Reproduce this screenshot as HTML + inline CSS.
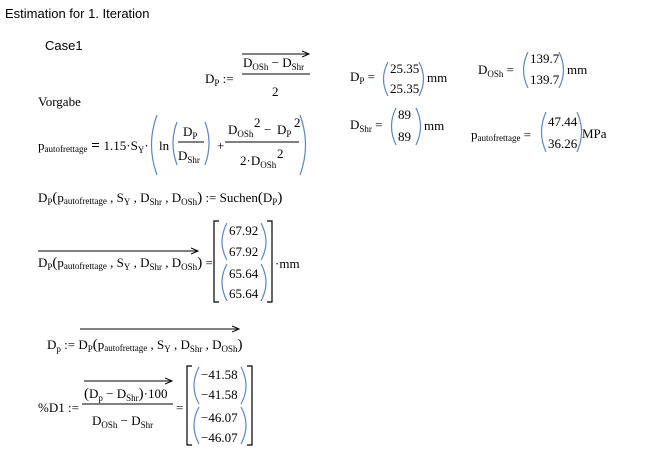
<!DOCTYPE html>
<html><head><meta charset="utf-8"><style>
html,body{margin:0;padding:0;background:#fff;}
svg{display:block;}
.s{font-family:"Liberation Sans",sans-serif;font-size:13px;fill:#000;}
.m{font-family:"Liberation Serif",serif;font-size:13px;fill:#000;}
.p{fill:none;stroke:#5b86c4;stroke-width:1.2;}
.b{fill:none;stroke:#000;stroke-width:1;}
.k{fill:none;stroke:#000;stroke-width:1.2;}
</style></head><body>
<svg width="648" height="453" viewBox="0 0 648 453">
<defs><marker id="a" markerWidth="8" markerHeight="8" refX="7" refY="4" orient="auto" markerUnits="userSpaceOnUse"><path d="M0,1 L7,4 L0,7" fill="none" stroke="#000" stroke-width="1"/></marker></defs>
<text class="s" x="5" y="18">Estimation for 1. Iteration</text>
<text class="s" x="45" y="50">Case1</text>

<text class="m" x="205" y="83">D<tspan font-size="9" dy="3">P</tspan><tspan dy="-3"> :=</tspan></text>
<line x1="242" y1="54" x2="309" y2="54" class="b" marker-end="url(#a)"/>
<text class="m" x="243" y="67">D<tspan font-size="9" dy="3">OSh</tspan><tspan dy="-3"> − D</tspan><tspan font-size="9" dy="3">Shr</tspan></text>
<line x1="242" y1="74" x2="310" y2="74" class="b"/>
<text class="m" x="272" y="96">2</text>

<text class="m" x="38" y="106">Vorgabe</text>

<text class="m" x="38" y="150">p<tspan font-size="9" dy="2">autofrettage</tspan><tspan dy="-2" font-weight="bold" font-size="15"> = </tspan><tspan>1.15·S</tspan><tspan font-size="9" dy="3">Y</tspan><tspan dy="-3">·</tspan></text>
<path class="p" d="M157,115 Q146,145 157,175"/>
<text class="m" x="159" y="150">ln</text>
<path class="p" d="M177,122 Q169,143 177,165"/>
<text class="m" x="183" y="136">D<tspan font-size="9" dy="3">P</tspan></text>
<line x1="178" y1="142" x2="204" y2="142" class="b"/>
<text class="m" x="178" y="160">D<tspan font-size="9" dy="3">Shr</tspan></text>
<path class="p" d="M205,122 Q213,143 205,165"/>
<text class="m" x="217" y="150">+</text>
<text class="m" x="228" y="134">D<tspan font-size="9" dy="3">OSh</tspan></text>
<text class="m" x="254" y="127" font-size="12">2</text>
<text class="m" x="264" y="134">−</text>
<text class="m" x="277" y="134">D<tspan font-size="9" dy="3">P</tspan></text>
<text class="m" x="294" y="127" font-size="12">2</text>
<line x1="225" y1="142" x2="299" y2="142" class="b"/>
<text class="m" x="240" y="165">2·D<tspan font-size="9" dy="3">OSh</tspan></text>
<text class="m" x="277" y="158" font-size="12">2</text>
<path class="p" d="M300,115 Q311,145 300,175"/>

<text class="m" x="350" y="81">D<tspan font-size="9" dy="3">P</tspan><tspan dy="-3"> =</tspan></text>
<path class="p" d="M388,62 Q379,79 388,96"/>
<text class="m" x="390" y="73">25.35</text>
<text class="m" x="390" y="93">25.35</text>
<path class="p" d="M419,62 Q428,79 419,96"/>
<text class="m" x="427" y="82">mm</text>

<text class="m" x="478" y="74">D<tspan font-size="9" dy="3">OSh</tspan><tspan dy="-3"> =</tspan></text>
<path class="p" d="M528,52 Q519,70 528,88"/>
<text class="m" x="530" y="63">139.7</text>
<text class="m" x="530" y="84">139.7</text>
<path class="p" d="M559,52 Q568,70 559,88"/>
<text class="m" x="567" y="74">mm</text>

<text class="m" x="350" y="129">D<tspan font-size="9" dy="3">Shr</tspan><tspan dy="-3"> =</tspan></text>
<path class="p" d="M396,108 Q387,126 396,145"/>
<text class="m" x="398" y="119">89</text>
<text class="m" x="398" y="141">89</text>
<path class="p" d="M416,108 Q425,126 416,145"/>
<text class="m" x="424" y="130">mm</text>

<text class="m" x="471" y="139">p<tspan font-size="9" dy="2">autofrettage</tspan><tspan dy="-2"> =</tspan></text>
<path class="p" d="M546,112 Q537,132 546,152"/>
<text class="m" x="548" y="126">47.44</text>
<text class="m" x="548" y="148">36.26</text>
<path class="p" d="M577,112 Q586,132 577,152"/>
<text class="m" x="582" y="138">MPa</text>

<text class="m" x="38" y="202">D<tspan font-size="9" dy="3">P</tspan><tspan dy="-3" font-size="15">(</tspan><tspan>p</tspan><tspan font-size="9" dy="2">autofrettage</tspan><tspan dy="-2"> , S</tspan><tspan font-size="9" dy="3">Y</tspan><tspan dy="-3"> , D</tspan><tspan font-size="9" dy="3">Shr</tspan><tspan dy="-3"> , D</tspan><tspan font-size="9" dy="3">OSh</tspan><tspan dy="-3" font-size="15">)</tspan><tspan> := Suchen</tspan><tspan font-size="15">(</tspan><tspan>D</tspan><tspan font-size="9" dy="3">P</tspan><tspan dy="-3" font-size="15">)</tspan></text>

<line x1="38" y1="251" x2="198" y2="251" class="b" marker-end="url(#a)"/>
<text class="m" x="38" y="267">D<tspan font-size="9" dy="3">P</tspan><tspan dy="-3" font-size="15">(</tspan><tspan>p</tspan><tspan font-size="9" dy="2">autofrettage</tspan><tspan dy="-2"> , S</tspan><tspan font-size="9" dy="3">Y</tspan><tspan dy="-3"> , D</tspan><tspan font-size="9" dy="3">Shr</tspan><tspan dy="-3"> , D</tspan><tspan font-size="9" dy="3">OSh</tspan><tspan dy="-3" font-size="15">)</tspan><tspan> =</tspan></text>
<path class="k" d="M219,221 H214 V302 H219"/>
<path class="k" d="M267,221 H272 V302 H267"/>
<path class="p" d="M227,223 Q217,242 227,260"/>
<path class="p" d="M261,223 Q271,242 261,260"/>
<text class="m" x="229" y="235">67.92</text>
<text class="m" x="229" y="256">67.92</text>
<path class="p" d="M227,264 Q217,282 227,301"/>
<path class="p" d="M261,264 Q271,282 261,301"/>
<text class="m" x="229" y="278">65.64</text>
<text class="m" x="229" y="298">65.64</text>
<text class="m" x="275" y="268">·mm</text>

<text class="m" x="47" y="349">D<tspan font-size="9" dy="3">p</tspan><tspan dy="-3"> := </tspan><tspan>D</tspan><tspan font-size="9" dy="3">P</tspan><tspan dy="-3" font-size="15">(</tspan><tspan>p</tspan><tspan font-size="9" dy="2">autofrettage</tspan><tspan dy="-2"> , S</tspan><tspan font-size="9" dy="3">Y</tspan><tspan dy="-3"> , D</tspan><tspan font-size="9" dy="3">Shr</tspan><tspan dy="-3"> , D</tspan><tspan font-size="9" dy="3">OSh</tspan><tspan dy="-3" font-size="15">)</tspan></text>
<line x1="80" y1="329" x2="239" y2="329" class="b" marker-end="url(#a)"/>

<text class="m" x="38" y="412">%D1 :=</text>
<line x1="84" y1="381" x2="172" y2="381" class="b" marker-end="url(#a)"/>
<text class="m" x="84" y="398"><tspan font-size="15">(</tspan>D<tspan font-size="9" dy="3">p</tspan><tspan dy="-3"> − D</tspan><tspan font-size="9" dy="3">Shr</tspan><tspan dy="-3" font-size="15">)</tspan><tspan>·100</tspan></text>
<line x1="82" y1="404" x2="173" y2="404" class="b"/>
<text class="m" x="92" y="425">D<tspan font-size="9" dy="3">OSh</tspan><tspan dy="-3"> − D</tspan><tspan font-size="9" dy="3">Shr</tspan></text>
<text class="m" x="176" y="412">=</text>
<path class="k" d="M192,366 H187 V445 H192"/>
<path class="k" d="M247,366 H252 V445 H247"/>
<path class="p" d="M199,367 Q189,386 199,404"/>
<path class="p" d="M241,367 Q251,386 241,404"/>
<text class="m" x="201" y="379">−41.58</text>
<text class="m" x="201" y="399">−41.58</text>
<path class="p" d="M199,407 Q189,425 199,444"/>
<path class="p" d="M241,407 Q251,425 241,444"/>
<text class="m" x="201" y="422">−46.07</text>
<text class="m" x="201" y="442">−46.07</text>
</svg>
</body></html>
